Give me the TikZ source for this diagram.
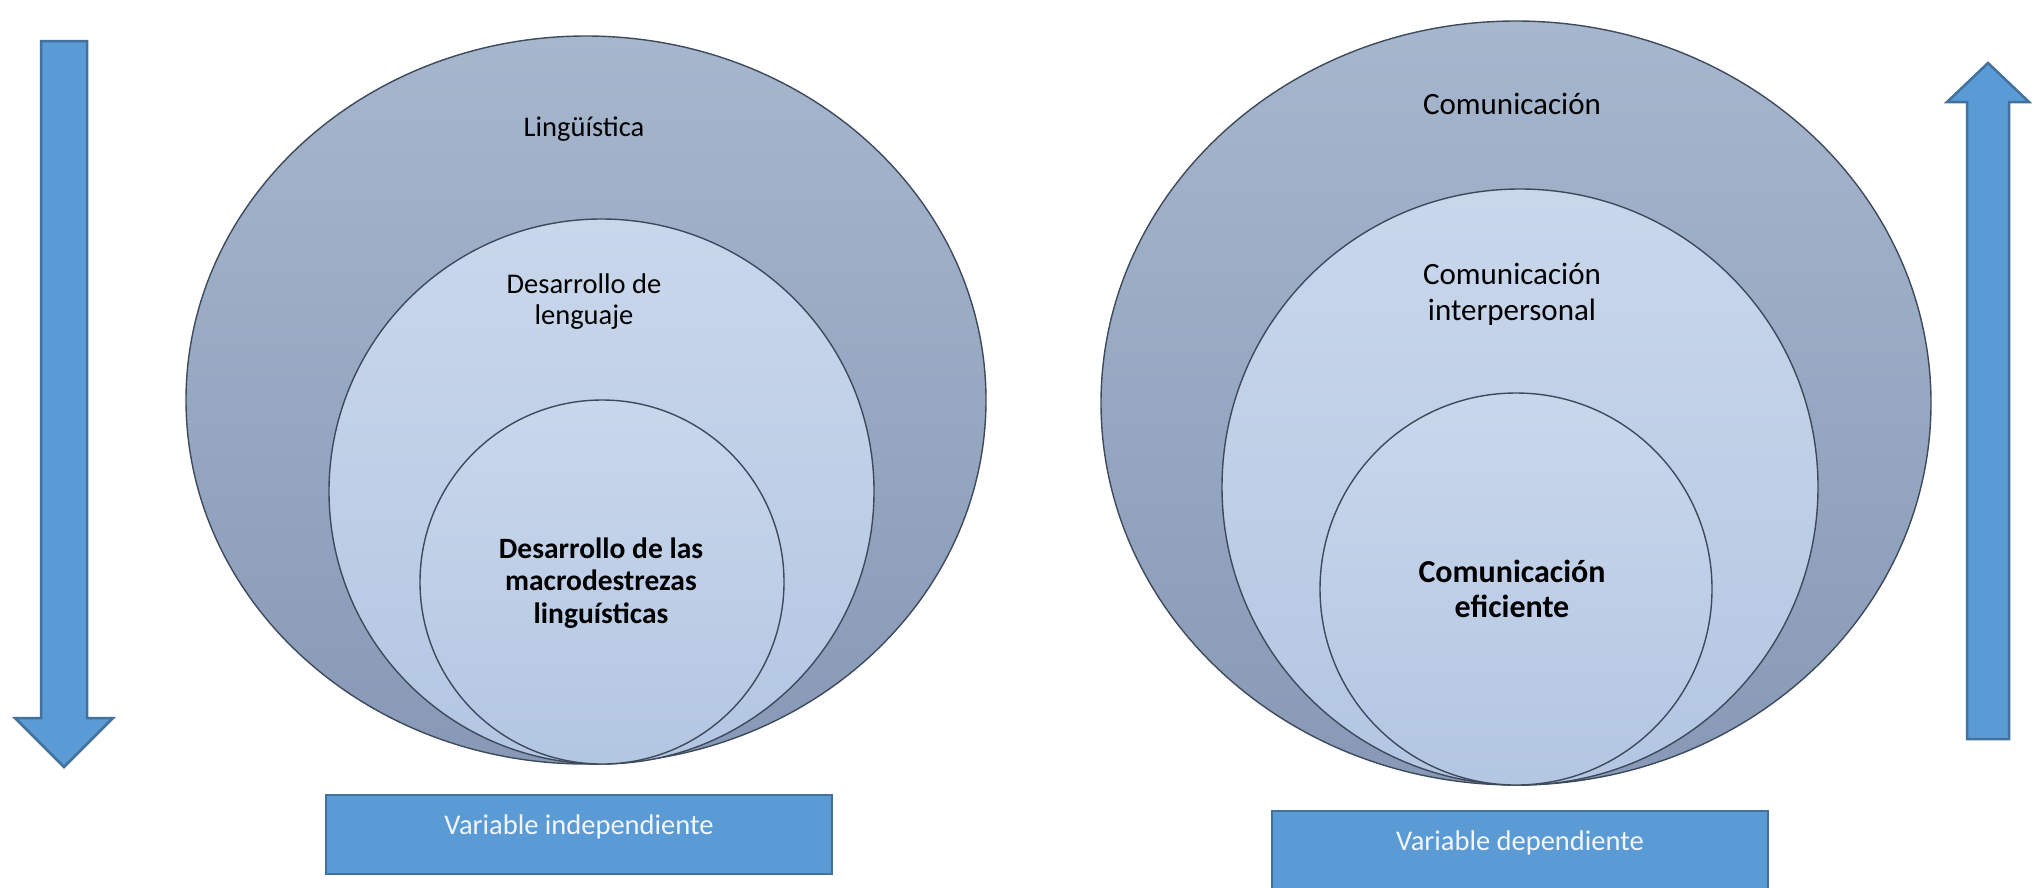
\documentclass[tikz,border=0pt]{standalone}
\usepackage{fontspec}
\setmainfont{Carlito}
\usetikzlibrary{shapes.geometric}
\definecolor{outTop}{HTML}{A6B6CD}
\definecolor{outBot}{HTML}{8799B6}
\definecolor{inTop}{HTML}{C9D7EB}
\definecolor{inBot}{HTML}{B3C6E2}
\definecolor{blueFill}{HTML}{5B9BD5}
\definecolor{blueLine}{HTML}{41719C}
\definecolor{ringLine}{HTML}{3E4A5C}
\definecolor{boxText}{HTML}{F2F6FB}
\begin{document}
\begin{tikzpicture}[x=1pt,y=-1pt,
  outer/.style={ellipse, draw=ringLine, line width=1.4pt, inner sep=0pt, outer sep=0pt, top color=outTop, bottom color=outBot},
  inner/.style={circle, draw=ringLine, line width=1.4pt, inner sep=0pt, outer sep=0pt, top color=inTop, bottom color=inBot},
  lbl/.style={align=center, text=black, font=\fontsize{28.5}{31}\selectfont},
  lblR/.style={align=center, text=black, font=\fontsize{31}{36}\selectfont},
  boldL/.style={align=center, text=black, font=\fontsize{29.5}{32.5}\selectfont\bfseries},
  boldR/.style={align=center, text=black, font=\fontsize{32}{35}\selectfont\bfseries},
  varbox/.style={draw=blueLine, line width=2.5pt, fill=blueFill, inner sep=0pt, outer sep=0pt},
  boxlbl/.style={text=boxText, font=\fontsize{28.5}{34}\selectfont},
  bigarrow/.style={draw=blueLine, line width=2.5pt, fill=blueFill, line join=miter}
]
\useasboundingbox (0,0) rectangle (2040,887);
% left arrow (down)
\draw[bigarrow] (41,41) -- (87,41) -- (87,718) -- (113,718) -- (64,767) -- (15,718) -- (41,718) -- cycle;
% right arrow (up)
\draw[bigarrow] (1988,63) -- (2029,102) -- (2009,102) -- (2009,739) -- (1967,739) -- (1967,102) -- (1947,102) -- cycle;
% left group
\node[outer, minimum width=800pt, minimum height=728pt] (L1) at (586,400) {};
\node[inner, minimum size=545pt] (L2) at (601.5,491.5) {};
\node[inner, minimum size=364pt] (L3) at (602,582) {};
\node[lbl] (t1) at (584,129) {Lingüística};
\node[lbl] (t2) at (584,302) {Desarrollo de\\lenguaje};
\node[boldL] (t3) at (601,583) {Desarrollo de las\\macrodestrezas\\linguísticas};
% right group
\node[outer, minimum width=830pt, minimum height=764pt] (R1) at (1516,403) {};
\node[inner, minimum size=596pt] (R2) at (1520,487) {};
\node[inner, minimum size=392pt] (R3) at (1516,589) {};
\node[lblR] (u1) at (1512,104) {Comunicación};
\node[lblR] (u2) at (1512,294) {Comunicación\\interpersonal};
\node[boldR] (u3) at (1512,589) {Comunicación\\eficiente};
% boxes
\draw[varbox] (326,795) rectangle (832,874);
\node[boxlbl] (b1) at (579,827) {Variable independiente};
\draw[varbox] (1272,811) rectangle (1768,900);
\node[boxlbl] (b2) at (1520,843) {Variable dependiente};
\end{tikzpicture}
\end{document}
